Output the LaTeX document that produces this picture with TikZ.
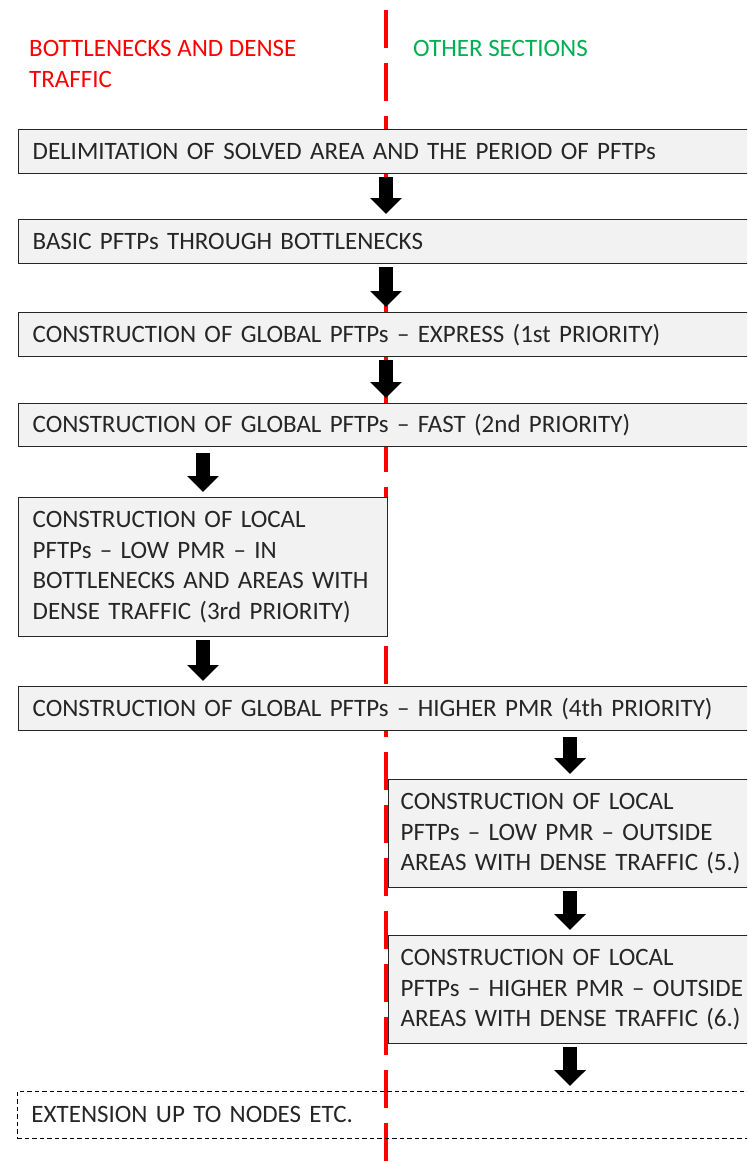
\documentclass[tikz,border=0pt]{standalone}
\usepackage{fontspec}
\setmainfont{Carlito}
\usetikzlibrary{arrows.meta}
\definecolor{boxfill}{HTML}{F2F2F2}
\definecolor{boxborder}{HTML}{262626}
\definecolor{textcol}{HTML}{262626}
\definecolor{divred}{HTML}{FF0000}
\definecolor{hdgreen}{HTML}{00B050}
\tikzset{
  flowbox/.style={draw=boxborder, fill=boxfill, line width=1.3pt, inner xsep=14pt, inner ysep=0pt,
    anchor=north west, align=left, text=textcol, font=\fontsize{25}{30.5}\selectfont},
  widebox/.style={flowbox, text width=732pt, minimum height=44pt},
  extbox/.style={draw=black, line width=0.9pt, dash pattern=on 4.5pt off 3pt, inner xsep=14pt, inner ysep=0pt,
    anchor=north west, align=left, text=textcol, font=\fontsize{25}{30.5}\selectfont, text width=732pt, minimum height=47pt},
  blockarrow/.style={line width=14pt, black, -{Triangle[width=31pt,length=16pt]}, shorten <=3pt, shorten >=5pt},
  header/.style={anchor=north west, inner sep=0pt, align=left, font=\fontsize{25}{31}\selectfont},
  divider/.style={divred, line width=3.4pt, dash pattern=on 38pt off 15pt}
}
\begin{document}
\begin{tikzpicture}[x=1pt,y=-1pt]
\useasboundingbox (0,0) rectangle (747,1162);
\clip (0,0) rectangle (747,1162);
\fill[white] (0,0) rectangle (747,1162);
% divider
\coordinate (dtop) at (386,10);
\coordinate (dbot) at (386,1170);
\draw[divider] (dtop) -- (dbot);
% headers
\node[header, text=divred] (hleft) at (29,40) {BOTTLENECKS AND DENSE\\TRAFFIC};
\node[header, text=hdgreen] (hright) at (413,40) {OTHER SECTIONS};
% boxes
\node[widebox] (b1) at (18,129) {DELIMITATION OF SOLVED AREA AND THE PERIOD OF PFTPs};
\node[widebox] (b2) at (18,219) {BASIC PFTPs THROUGH BOTTLENECKS};
\node[widebox] (b3) at (18,312) {CONSTRUCTION OF GLOBAL PFTPs – EXPRESS (1st PRIORITY)};
\node[widebox, minimum height=43pt] (b4) at (18,403) {CONSTRUCTION OF GLOBAL PFTPs – FAST (2nd PRIORITY)};
\node[flowbox, text width=341pt, minimum height=139pt] (b5) at (18,497) {CONSTRUCTION OF LOCAL\\PFTPs – LOW PMR – IN\\BOTTLENECKS AND AREAS WITH\\DENSE TRAFFIC (3rd PRIORITY)};
\node[widebox] (b6) at (18,686) {CONSTRUCTION OF GLOBAL PFTPs – HIGHER PMR (4th PRIORITY)};
\node[flowbox, inner xsep=12pt, text width=348pt, minimum height=108pt] (b7) at (388,779) {CONSTRUCTION OF LOCAL\\PFTPs – LOW PMR – OUTSIDE\\AREAS WITH DENSE TRAFFIC (5.)};
\node[flowbox, inner xsep=12pt, text width=348pt, minimum height=108pt] (b8) at (388,935) {CONSTRUCTION OF LOCAL\\PFTPs – HIGHER PMR – OUTSIDE\\AREAS WITH DENSE TRAFFIC (6.)};
\node[extbox] (b9) at (17,1091) {EXTENSION UP TO NODES ETC.};
% arrows
\draw[blockarrow] (386,0 |- b1.south) -- (386,0 |- b2.north);
\draw[blockarrow] (386,0 |- b2.south) -- (386,0 |- b3.north);
\draw[blockarrow] (386,0 |- b3.south) -- (386,0 |- b4.north);
\draw[blockarrow, shorten <=6pt] (203,0 |- b4.south) -- (203,0 |- b5.north);
\draw[blockarrow] (203,0 |- b5.south) -- (203,0 |- b6.north);
\draw[blockarrow, shorten <=6pt] (570,0 |- b6.south) -- (570,0 |- b7.north);
\draw[blockarrow] (570,0 |- b7.south) -- (570,0 |- b8.north);
\draw[blockarrow] (570,0 |- b8.south) -- (570,0 |- b9.north);
\end{tikzpicture}
\end{document}
